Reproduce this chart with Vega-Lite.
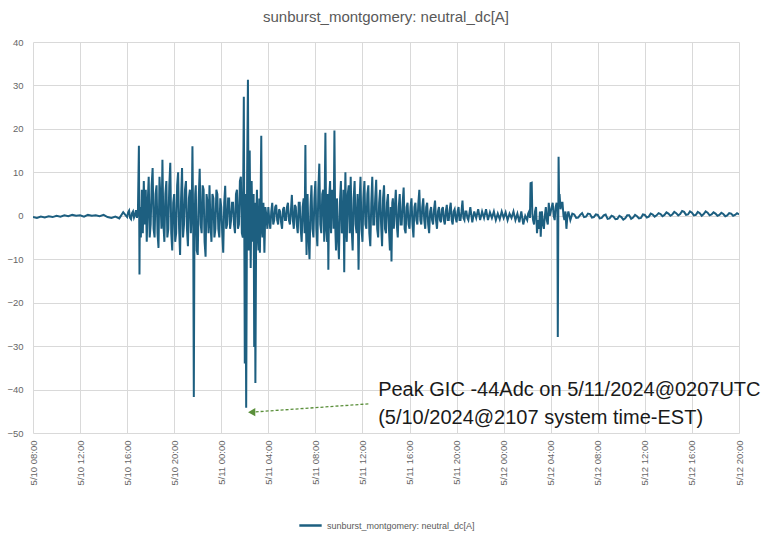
{
  "$schema": "https://vega.github.io/schema/vega-lite/v6.json",
  "autosize": {"type": "none"},
  "width": 706,
  "height": 391,
  "padding": {"left": 33, "top": 42, "right": 22, "bottom": 106},
  "background": "white",
  "config": {
    "view": {"stroke": null},
    "font": "Liberation Sans",
    "axis": {"gridColor": "#d9d9d9", "gridWidth": 1, "domain": false, "ticks": false, "labelColor": "#666666", "title": null}
  },
  "title": {"text": "sunburst_montgomery: neutral_dc[A]", "fontSize": 15, "fontWeight": "normal", "color": "#595959", "offset": 12, "anchor": "middle"},
  "datasets": {
    "series": [
      {"t":"2024-05-10T08:00","v":-0.3},{"t":"2024-05-10T08:20","v":-0.5},{"t":"2024-05-10T08:40","v":-0.2},{"t":"2024-05-10T09:00","v":-0.4},{"t":"2024-05-10T09:20","v":-0.1},{"t":"2024-05-10T09:40","v":-0.3},{"t":"2024-05-10T10:00","v":0},{"t":"2024-05-10T10:20","v":-0.2},{"t":"2024-05-10T10:40","v":0.1},{"t":"2024-05-10T11:00","v":-0.1},{"t":"2024-05-10T11:20","v":0.2},{"t":"2024-05-10T11:40","v":0},{"t":"2024-05-10T12:00","v":0.1},{"t":"2024-05-10T12:20","v":-0.2},{"t":"2024-05-10T12:40","v":0.2},{"t":"2024-05-10T13:00","v":0},{"t":"2024-05-10T13:20","v":0.1},{"t":"2024-05-10T13:40","v":-0.1},{"t":"2024-05-10T14:00","v":0.2},{"t":"2024-05-10T14:20","v":-0.3},{"t":"2024-05-10T14:40","v":-0.5},{"t":"2024-05-10T15:00","v":-0.2},{"t":"2024-05-10T15:20","v":-0.6},{"t":"2024-05-10T15:40","v":0.8},
      {"t":"2024-05-10T16:00","v":-0.3},{"t":"2024-05-10T16:05","v":0.8},{"t":"2024-05-10T16:10","v":1.2},{"t":"2024-05-10T16:15","v":-0.5},{"t":"2024-05-10T16:20","v":-0.8},{"t":"2024-05-10T16:25","v":0.6},{"t":"2024-05-10T16:30","v":1.0},{"t":"2024-05-10T16:35","v":-0.4},{"t":"2024-05-10T16:40","v":0.2},{"t":"2024-05-10T16:45","v":1.3},{"t":"2024-05-10T16:50","v":-0.5},{"t":"2024-05-10T16:55","v":0.9},
      {"t":"2024-05-10T17:00","v":16.1},{"t":"2024-05-10T17:03","v":-13.5},{"t":"2024-05-10T17:05","v":2},{"t":"2024-05-10T17:10","v":-5},{"t":"2024-05-10T17:15","v":6},{"t":"2024-05-10T17:20","v":-4},{"t":"2024-05-10T17:25","v":8},{"t":"2024-05-10T17:30","v":-2},{"t":"2024-05-10T17:35","v":6},{"t":"2024-05-10T17:40","v":-6},{"t":"2024-05-10T17:45","v":3},{"t":"2024-05-10T17:50","v":9},{"t":"2024-05-10T17:55","v":-5},
      {"t":"2024-05-10T18:00","v":-2},{"t":"2024-05-10T18:05","v":7},{"t":"2024-05-10T18:10","v":11},{"t":"2024-05-10T18:15","v":-3},{"t":"2024-05-10T18:20","v":-5},{"t":"2024-05-10T18:25","v":5},{"t":"2024-05-10T18:30","v":7},{"t":"2024-05-10T18:35","v":-4},{"t":"2024-05-10T18:40","v":-7.4},{"t":"2024-05-10T18:45","v":9},{"t":"2024-05-10T18:50","v":4},{"t":"2024-05-10T18:55","v":-3},
      {"t":"2024-05-10T19:00","v":12.9},{"t":"2024-05-10T19:05","v":-2},{"t":"2024-05-10T19:10","v":-6},{"t":"2024-05-10T19:15","v":5},{"t":"2024-05-10T19:20","v":8},{"t":"2024-05-10T19:25","v":-5},{"t":"2024-05-10T19:30","v":-3},{"t":"2024-05-10T19:35","v":7},{"t":"2024-05-10T19:40","v":12.2},{"t":"2024-05-10T19:45","v":-4},{"t":"2024-05-10T19:50","v":-8},{"t":"2024-05-10T19:55","v":3},
      {"t":"2024-05-10T20:00","v":5},{"t":"2024-05-10T20:05","v":-6},{"t":"2024-05-10T20:10","v":-4},{"t":"2024-05-10T20:15","v":7},{"t":"2024-05-10T20:20","v":10},{"t":"2024-05-10T20:25","v":-3},{"t":"2024-05-10T20:30","v":-9},{"t":"2024-05-10T20:35","v":4},{"t":"2024-05-10T20:40","v":11},{"t":"2024-05-10T20:45","v":-5},{"t":"2024-05-10T20:50","v":-2},{"t":"2024-05-10T20:55","v":6},
      {"t":"2024-05-10T21:00","v":8},{"t":"2024-05-10T21:05","v":-3},{"t":"2024-05-10T21:10","v":-7},{"t":"2024-05-10T21:15","v":4},{"t":"2024-05-10T21:20","v":6},{"t":"2024-05-10T21:25","v":-4},{"t":"2024-05-10T21:30","v":3},{"t":"2024-05-10T21:33","v":16},{"t":"2024-05-10T21:37","v":-3},{"t":"2024-05-10T21:40","v":-41.7},{"t":"2024-05-10T21:43","v":-6},{"t":"2024-05-10T21:47","v":5},{"t":"2024-05-10T21:50","v":7},{"t":"2024-05-10T21:55","v":-8},
      {"t":"2024-05-10T22:00","v":-9},{"t":"2024-05-10T22:05","v":4},{"t":"2024-05-10T22:10","v":10.8},{"t":"2024-05-10T22:15","v":-2},{"t":"2024-05-10T22:20","v":-4},{"t":"2024-05-10T22:25","v":7},{"t":"2024-05-10T22:30","v":6},{"t":"2024-05-10T22:35","v":-6},{"t":"2024-05-10T22:40","v":-9.4},{"t":"2024-05-10T22:45","v":5},{"t":"2024-05-10T22:50","v":3},{"t":"2024-05-10T22:55","v":-4},
      {"t":"2024-05-10T23:00","v":7},{"t":"2024-05-10T23:05","v":-2},{"t":"2024-05-10T23:10","v":-6},{"t":"2024-05-10T23:15","v":5},{"t":"2024-05-10T23:20","v":4},{"t":"2024-05-10T23:25","v":-5},{"t":"2024-05-10T23:30","v":-3},{"t":"2024-05-10T23:35","v":6},{"t":"2024-05-10T23:40","v":5},{"t":"2024-05-10T23:45","v":-3},{"t":"2024-05-10T23:50","v":-5},{"t":"2024-05-10T23:55","v":4},
      {"t":"2024-05-11T00:00","v":2},{"t":"2024-05-11T00:05","v":-4},{"t":"2024-05-11T00:10","v":-8.5},{"t":"2024-05-11T00:15","v":3},{"t":"2024-05-11T00:20","v":6.9},{"t":"2024-05-11T00:25","v":-3},{"t":"2024-05-11T00:30","v":-2},{"t":"2024-05-11T00:35","v":4},{"t":"2024-05-11T00:40","v":4},{"t":"2024-05-11T00:45","v":-3},{"t":"2024-05-11T00:50","v":-1},{"t":"2024-05-11T00:55","v":3},
      {"t":"2024-05-11T01:00","v":3},{"t":"2024-05-11T01:05","v":-2},{"t":"2024-05-11T01:10","v":-4},{"t":"2024-05-11T01:15","v":5},{"t":"2024-05-11T01:20","v":6},{"t":"2024-05-11T01:25","v":-3},{"t":"2024-05-11T01:30","v":-2},{"t":"2024-05-11T01:35","v":8},{"t":"2024-05-11T01:40","v":9},{"t":"2024-05-11T01:45","v":-4},{"t":"2024-05-11T01:50","v":-5},
      {"t":"2024-05-11T01:55","v":27.4},{"t":"2024-05-11T02:00","v":-34},{"t":"2024-05-11T02:03","v":5},{"t":"2024-05-11T02:07","v":-44.2},{"t":"2024-05-11T02:12","v":10},{"t":"2024-05-11T02:16","v":31.3},{"t":"2024-05-11T02:20","v":-8},{"t":"2024-05-11T02:25","v":15},{"t":"2024-05-11T02:30","v":-12},{"t":"2024-05-11T02:35","v":8},{"t":"2024-05-11T02:40","v":-6},{"t":"2024-05-11T02:45","v":5},{"t":"2024-05-11T02:48","v":-30.2},{"t":"2024-05-11T02:51","v":3},{"t":"2024-05-11T02:54","v":-38.5},{"t":"2024-05-11T02:58","v":-2},
      {"t":"2024-05-11T03:02","v":6},{"t":"2024-05-11T03:05","v":-4},{"t":"2024-05-11T03:10","v":-8},{"t":"2024-05-11T03:14","v":4},{"t":"2024-05-11T03:17","v":-8.5},{"t":"2024-05-11T03:21","v":5},{"t":"2024-05-11T03:24","v":18.4},{"t":"2024-05-11T03:27","v":-3},{"t":"2024-05-11T03:30","v":-5},{"t":"2024-05-11T03:35","v":3},{"t":"2024-05-11T03:40","v":-8.5},{"t":"2024-05-11T03:45","v":2},{"t":"2024-05-11T03:50","v":0},{"t":"2024-05-11T03:55","v":-3},
      {"t":"2024-05-11T04:00","v":2},{"t":"2024-05-11T04:05","v":-1},{"t":"2024-05-11T04:10","v":-3},{"t":"2024-05-11T04:15","v":1},{"t":"2024-05-11T04:20","v":3},{"t":"2024-05-11T04:25","v":-2},{"t":"2024-05-11T04:30","v":-1},{"t":"2024-05-11T04:35","v":2},{"t":"2024-05-11T04:40","v":2.5},{"t":"2024-05-11T04:45","v":-1},{"t":"2024-05-11T04:50","v":-2},{"t":"2024-05-11T04:55","v":1.5},
      {"t":"2024-05-11T05:00","v":1},{"t":"2024-05-11T05:05","v":-1.5},{"t":"2024-05-11T05:10","v":-3},{"t":"2024-05-11T05:15","v":1.5},{"t":"2024-05-11T05:20","v":2},{"t":"2024-05-11T05:25","v":-1},{"t":"2024-05-11T05:30","v":-1},{"t":"2024-05-11T05:35","v":2},{"t":"2024-05-11T05:40","v":3},{"t":"2024-05-11T05:45","v":-1},{"t":"2024-05-11T05:50","v":-2},{"t":"2024-05-11T05:55","v":1},
      {"t":"2024-05-11T06:00","v":4.8},{"t":"2024-05-11T06:05","v":-1},{"t":"2024-05-11T06:10","v":-3},{"t":"2024-05-11T06:15","v":2.5},{"t":"2024-05-11T06:20","v":2},{"t":"2024-05-11T06:25","v":-2},{"t":"2024-05-11T06:30","v":-4},{"t":"2024-05-11T06:35","v":3},{"t":"2024-05-11T06:40","v":3},{"t":"2024-05-11T06:45","v":-3},{"t":"2024-05-11T06:50","v":-6},{"t":"2024-05-11T06:55","v":2},
      {"t":"2024-05-11T07:00","v":4},{"t":"2024-05-11T07:05","v":-4},{"t":"2024-05-11T07:09","v":16.3},{"t":"2024-05-11T07:12","v":-2},{"t":"2024-05-11T07:15","v":-9},{"t":"2024-05-11T07:18","v":3},{"t":"2024-05-11T07:20","v":5},{"t":"2024-05-11T07:25","v":-5},{"t":"2024-05-11T07:30","v":-10},{"t":"2024-05-11T07:35","v":2},{"t":"2024-05-11T07:40","v":7},{"t":"2024-05-11T07:45","v":-3},{"t":"2024-05-11T07:50","v":-5},{"t":"2024-05-11T07:55","v":4},
      {"t":"2024-05-11T08:00","v":8},{"t":"2024-05-11T08:05","v":-3},{"t":"2024-05-11T08:10","v":-7},{"t":"2024-05-11T08:15","v":6},{"t":"2024-05-11T08:20","v":12},{"t":"2024-05-11T08:25","v":-2},{"t":"2024-05-11T08:30","v":-4},{"t":"2024-05-11T08:35","v":5},{"t":"2024-05-11T08:40","v":6},{"t":"2024-05-11T08:45","v":-6},{"t":"2024-05-11T08:51","v":19.1},{"t":"2024-05-11T08:55","v":-3},
      {"t":"2024-05-11T09:00","v":-6},{"t":"2024-05-11T09:03","v":5},{"t":"2024-05-11T09:06","v":-12.4},{"t":"2024-05-11T09:10","v":4},{"t":"2024-05-11T09:15","v":8},{"t":"2024-05-11T09:18","v":-2},{"t":"2024-05-11T09:20","v":-4},{"t":"2024-05-11T09:25","v":6},{"t":"2024-05-11T09:30","v":5},{"t":"2024-05-11T09:33","v":-3},{"t":"2024-05-11T09:37","v":19.6},{"t":"2024-05-11T09:41","v":-2},{"t":"2024-05-11T09:45","v":-8},{"t":"2024-05-11T09:50","v":4},{"t":"2024-05-11T09:55","v":-5},
      {"t":"2024-05-11T10:00","v":-10},{"t":"2024-05-11T10:05","v":3},{"t":"2024-05-11T10:10","v":8},{"t":"2024-05-11T10:15","v":-4},{"t":"2024-05-11T10:20","v":-3},{"t":"2024-05-11T10:23","v":6},{"t":"2024-05-11T10:27","v":-13},{"t":"2024-05-11T10:30","v":2},{"t":"2024-05-11T10:33","v":10},{"t":"2024-05-11T10:37","v":-3},{"t":"2024-05-11T10:40","v":-6},{"t":"2024-05-11T10:45","v":5},{"t":"2024-05-11T10:50","v":7},{"t":"2024-05-11T10:55","v":-4},
      {"t":"2024-05-11T11:00","v":9},{"t":"2024-05-11T11:05","v":-3},{"t":"2024-05-11T11:10","v":-8},{"t":"2024-05-11T11:15","v":4},{"t":"2024-05-11T11:20","v":8},{"t":"2024-05-11T11:25","v":-2},{"t":"2024-05-11T11:30","v":-4},{"t":"2024-05-11T11:35","v":5},{"t":"2024-05-11T11:40","v":-12.4},{"t":"2024-05-11T11:45","v":3},{"t":"2024-05-11T11:50","v":9},{"t":"2024-05-11T11:55","v":-3},
      {"t":"2024-05-11T12:00","v":-6},{"t":"2024-05-11T12:05","v":4},{"t":"2024-05-11T12:10","v":8},{"t":"2024-05-11T12:15","v":-2},{"t":"2024-05-11T12:20","v":-3},{"t":"2024-05-11T12:25","v":5},{"t":"2024-05-11T12:30","v":7},{"t":"2024-05-11T12:35","v":-4},{"t":"2024-05-11T12:40","v":-7},{"t":"2024-05-11T12:45","v":3},{"t":"2024-05-11T12:50","v":9},{"t":"2024-05-11T12:55","v":-2},
      {"t":"2024-05-11T13:00","v":-2},{"t":"2024-05-11T13:05","v":4},{"t":"2024-05-11T13:10","v":8.3},{"t":"2024-05-11T13:15","v":-3},{"t":"2024-05-11T13:20","v":-5},{"t":"2024-05-11T13:25","v":3},{"t":"2024-05-11T13:30","v":6},{"t":"2024-05-11T13:35","v":-2},{"t":"2024-05-11T13:40","v":-7},{"t":"2024-05-11T13:45","v":4},{"t":"2024-05-11T13:50","v":7},{"t":"2024-05-11T13:55","v":-3},
      {"t":"2024-05-11T14:00","v":-4},{"t":"2024-05-11T14:05","v":3},{"t":"2024-05-11T14:10","v":5},{"t":"2024-05-11T14:15","v":-3},{"t":"2024-05-11T14:20","v":-8},{"t":"2024-05-11T14:24","v":2},{"t":"2024-05-11T14:28","v":-10.5},{"t":"2024-05-11T14:32","v":3},{"t":"2024-05-11T14:35","v":4},{"t":"2024-05-11T14:40","v":-3},{"t":"2024-05-11T14:45","v":2},{"t":"2024-05-11T14:50","v":6},{"t":"2024-05-11T14:55","v":-2},
      {"t":"2024-05-11T15:00","v":-5},{"t":"2024-05-11T15:05","v":2},{"t":"2024-05-11T15:10","v":5},{"t":"2024-05-11T15:15","v":-2},{"t":"2024-05-11T15:20","v":-2},{"t":"2024-05-11T15:25","v":3},{"t":"2024-05-11T15:30","v":6.5},{"t":"2024-05-11T15:35","v":-3},{"t":"2024-05-11T15:40","v":-4},{"t":"2024-05-11T15:45","v":2},{"t":"2024-05-11T15:50","v":3},{"t":"2024-05-11T15:55","v":-2},
      {"t":"2024-05-11T16:00","v":-3},{"t":"2024-05-11T16:05","v":2},{"t":"2024-05-11T16:10","v":4},{"t":"2024-05-11T16:15","v":-2},{"t":"2024-05-11T16:20","v":-5},{"t":"2024-05-11T16:25","v":2},{"t":"2024-05-11T16:30","v":3},{"t":"2024-05-11T16:35","v":-1},{"t":"2024-05-11T16:40","v":-2},{"t":"2024-05-11T16:45","v":3},{"t":"2024-05-11T16:50","v":6},{"t":"2024-05-11T16:55","v":-1},
      {"t":"2024-05-11T17:00","v":-2},{"t":"2024-05-11T17:05","v":2},{"t":"2024-05-11T17:10","v":4},{"t":"2024-05-11T17:15","v":-1},{"t":"2024-05-11T17:20","v":-3},{"t":"2024-05-11T17:25","v":2},{"t":"2024-05-11T17:30","v":3},{"t":"2024-05-11T17:35","v":-2},{"t":"2024-05-11T17:40","v":-4},{"t":"2024-05-11T17:45","v":1},{"t":"2024-05-11T17:50","v":2},{"t":"2024-05-11T17:55","v":-1},
      {"t":"2024-05-11T18:00","v":-2},{"t":"2024-05-11T18:05","v":1.5},{"t":"2024-05-11T18:10","v":3.5},{"t":"2024-05-11T18:15","v":-1},{"t":"2024-05-11T18:20","v":-3},{"t":"2024-05-11T18:25","v":1},{"t":"2024-05-11T18:30","v":2},{"t":"2024-05-11T18:35","v":-1},{"t":"2024-05-11T18:40","v":-1.5},{"t":"2024-05-11T18:45","v":1.5},{"t":"2024-05-11T18:50","v":2},{"t":"2024-05-11T18:55","v":-1},
      {"t":"2024-05-11T19:00","v":-2},{"t":"2024-05-11T19:05","v":1},{"t":"2024-05-11T19:10","v":2.5},{"t":"2024-05-11T19:15","v":-1},{"t":"2024-05-11T19:20","v":-1},{"t":"2024-05-11T19:25","v":1.5},{"t":"2024-05-11T19:30","v":3},{"t":"2024-05-11T19:35","v":-1},{"t":"2024-05-11T19:40","v":-2},{"t":"2024-05-11T19:45","v":1},{"t":"2024-05-11T19:50","v":1.5},{"t":"2024-05-11T19:55","v":-0.5},
      {"t":"2024-05-11T20:00","v":-1.5},{"t":"2024-05-11T20:05","v":1},{"t":"2024-05-11T20:10","v":2},{"t":"2024-05-11T20:15","v":-1},{"t":"2024-05-11T20:20","v":-1},{"t":"2024-05-11T20:25","v":1},{"t":"2024-05-11T20:30","v":3.5},{"t":"2024-05-11T20:35","v":-0.5},{"t":"2024-05-11T20:40","v":-1},{"t":"2024-05-11T20:45","v":1},{"t":"2024-05-11T20:50","v":1},{"t":"2024-05-11T20:55","v":-0.5},
      {"t":"2024-05-11T21:00","v":-1},{"t":"2024-05-11T21:10","v":2},{"t":"2024-05-11T21:20","v":-1.5},{"t":"2024-05-11T21:30","v":1},{"t":"2024-05-11T21:40","v":-0.5},{"t":"2024-05-11T21:50","v":1.5},
      {"t":"2024-05-11T22:00","v":-1},{"t":"2024-05-11T22:10","v":1},{"t":"2024-05-11T22:20","v":-0.5},{"t":"2024-05-11T22:30","v":1.5},{"t":"2024-05-11T22:40","v":-1},{"t":"2024-05-11T22:50","v":0.8},
      {"t":"2024-05-11T23:00","v":-0.5},{"t":"2024-05-11T23:10","v":1},{"t":"2024-05-11T23:20","v":-1},{"t":"2024-05-11T23:30","v":0.5},{"t":"2024-05-11T23:40","v":-0.8},{"t":"2024-05-11T23:50","v":1},
      {"t":"2024-05-12T00:00","v":-0.5},{"t":"2024-05-12T00:10","v":0.8},{"t":"2024-05-12T00:20","v":-1},{"t":"2024-05-12T00:30","v":0.5},{"t":"2024-05-12T00:40","v":-0.5},{"t":"2024-05-12T00:50","v":1},
      {"t":"2024-05-12T01:00","v":-1},{"t":"2024-05-12T01:10","v":0.5},{"t":"2024-05-12T01:20","v":-1.5},{"t":"2024-05-12T01:30","v":1},{"t":"2024-05-12T01:40","v":-2},{"t":"2024-05-12T01:50","v":0},
      {"t":"2024-05-12T02:00","v":-1},{"t":"2024-05-12T02:05","v":0.5},{"t":"2024-05-12T02:10","v":1},{"t":"2024-05-12T02:14","v":-0.5},{"t":"2024-05-12T02:17","v":7.5},{"t":"2024-05-12T02:23","v":7.6},{"t":"2024-05-12T02:26","v":0.5},{"t":"2024-05-12T02:30","v":-1},{"t":"2024-05-12T02:35","v":-2},{"t":"2024-05-12T02:40","v":1},{"t":"2024-05-12T02:45","v":2},{"t":"2024-05-12T02:50","v":-4},{"t":"2024-05-12T02:55","v":-1},
      {"t":"2024-05-12T03:00","v":-3},{"t":"2024-05-12T03:05","v":1},{"t":"2024-05-12T03:09","v":-4.8},{"t":"2024-05-12T03:12","v":-1},{"t":"2024-05-12T03:15","v":1},{"t":"2024-05-12T03:20","v":-2},{"t":"2024-05-12T03:25","v":-3},{"t":"2024-05-12T03:30","v":0},{"t":"2024-05-12T03:35","v":2},{"t":"2024-05-12T03:40","v":-1},{"t":"2024-05-12T03:45","v":-2},{"t":"2024-05-12T03:50","v":3},{"t":"2024-05-12T03:55","v":0},
      {"t":"2024-05-12T04:00","v":1},{"t":"2024-05-12T04:05","v":2},{"t":"2024-05-12T04:10","v":3},{"t":"2024-05-12T04:15","v":0},{"t":"2024-05-12T04:20","v":-1},{"t":"2024-05-12T04:25","v":2},{"t":"2024-05-12T04:30","v":3},{"t":"2024-05-12T04:34","v":1},{"t":"2024-05-12T04:36","v":-27.9},{"t":"2024-05-12T04:40","v":13.6},{"t":"2024-05-12T04:43","v":3},{"t":"2024-05-12T04:45","v":5},{"t":"2024-05-12T04:50","v":1.5},{"t":"2024-05-12T04:55","v":3},
      {"t":"2024-05-12T05:00","v":3},{"t":"2024-05-12T05:05","v":0},{"t":"2024-05-12T05:10","v":-1},{"t":"2024-05-12T05:15","v":1},{"t":"2024-05-12T05:20","v":-3},{"t":"2024-05-12T05:25","v":0},{"t":"2024-05-12T05:30","v":1},{"t":"2024-05-12T05:40","v":-1},{"t":"2024-05-12T05:50","v":0.5},
      {"t":"2024-05-12T06:00","v":0.3},{"t":"2024-05-12T06:10","v":-0.5},{"t":"2024-05-12T06:20","v":-0.4},{"t":"2024-05-12T06:30","v":0.2},{"t":"2024-05-12T06:40","v":0.6},{"t":"2024-05-12T06:50","v":-0.3},{"t":"2024-05-12T07:00","v":-0.2},{"t":"2024-05-12T07:10","v":0.5},{"t":"2024-05-12T07:20","v":0.4},{"t":"2024-05-12T07:30","v":-0.4},{"t":"2024-05-12T07:40","v":-0.3},{"t":"2024-05-12T07:50","v":0.3},
      {"t":"2024-05-12T08:00","v":0.2},{"t":"2024-05-12T08:10","v":-0.6},{"t":"2024-05-12T08:20","v":-0.5},{"t":"2024-05-12T08:30","v":0.1},{"t":"2024-05-12T08:40","v":0.3},{"t":"2024-05-12T08:50","v":-0.7},{"t":"2024-05-12T09:00","v":-0.6},{"t":"2024-05-12T09:10","v":0},{"t":"2024-05-12T09:20","v":-0.2},{"t":"2024-05-12T09:30","v":-0.8},{"t":"2024-05-12T09:40","v":-0.7},{"t":"2024-05-12T09:50","v":0},
      {"t":"2024-05-12T10:00","v":-0.3},{"t":"2024-05-12T10:10","v":-0.9},{"t":"2024-05-12T10:20","v":-0.6},{"t":"2024-05-12T10:30","v":0.1},{"t":"2024-05-12T10:40","v":0.1},{"t":"2024-05-12T10:50","v":-0.7},{"t":"2024-05-12T11:00","v":-0.4},{"t":"2024-05-12T11:10","v":0.2},{"t":"2024-05-12T11:20","v":-0.1},{"t":"2024-05-12T11:30","v":-0.6},{"t":"2024-05-12T11:40","v":-0.5},{"t":"2024-05-12T11:50","v":0.3},
      {"t":"2024-05-12T12:00","v":0.2},{"t":"2024-05-12T12:10","v":-0.4},{"t":"2024-05-12T12:20","v":-0.2},{"t":"2024-05-12T12:30","v":0.5},{"t":"2024-05-12T12:40","v":0.3},{"t":"2024-05-12T12:50","v":-0.2},{"t":"2024-05-12T13:00","v":0.1},{"t":"2024-05-12T13:10","v":0.6},{"t":"2024-05-12T13:20","v":0.4},{"t":"2024-05-12T13:30","v":-0.1},{"t":"2024-05-12T13:40","v":0.2},{"t":"2024-05-12T13:50","v":0.8},
      {"t":"2024-05-12T14:00","v":0.5},{"t":"2024-05-12T14:10","v":0},{"t":"2024-05-12T14:20","v":0.3},{"t":"2024-05-12T14:30","v":0.9},{"t":"2024-05-12T14:40","v":0.6},{"t":"2024-05-12T14:50","v":0.1},{"t":"2024-05-12T15:00","v":0.4},{"t":"2024-05-12T15:10","v":1.1},{"t":"2024-05-12T15:20","v":0.9},{"t":"2024-05-12T15:30","v":0.2},{"t":"2024-05-12T15:40","v":0.3},{"t":"2024-05-12T15:50","v":1.0},
      {"t":"2024-05-12T16:00","v":0.7},{"t":"2024-05-12T16:10","v":0.1},{"t":"2024-05-12T16:20","v":0.2},{"t":"2024-05-12T16:30","v":0.9},{"t":"2024-05-12T16:40","v":0.6},{"t":"2024-05-12T16:50","v":0},{"t":"2024-05-12T17:00","v":0.4},{"t":"2024-05-12T17:10","v":1.0},{"t":"2024-05-12T17:20","v":0.7},{"t":"2024-05-12T17:30","v":0.1},{"t":"2024-05-12T17:40","v":0.3},{"t":"2024-05-12T17:50","v":0.8},
      {"t":"2024-05-12T18:00","v":0.5},{"t":"2024-05-12T18:10","v":0},{"t":"2024-05-12T18:20","v":0.2},{"t":"2024-05-12T18:30","v":0.7},{"t":"2024-05-12T18:40","v":0.4},{"t":"2024-05-12T18:50","v":-0.1},{"t":"2024-05-12T19:00","v":0.1},{"t":"2024-05-12T19:10","v":0.6},{"t":"2024-05-12T19:20","v":0.5},{"t":"2024-05-12T19:30","v":0},{"t":"2024-05-12T19:40","v":0.2},{"t":"2024-05-12T19:50","v":0.6},{"t":"2024-05-12T20:00","v":0.3}
    ],
    "notes": [
      {"t":"2024-05-11T13:20","v":-40.2,"label":"Peak GIC -44Adc on 5/11/2024@0207UTC"},
      {"t":"2024-05-11T13:20","v":-46.6,"label":"(5/10/2024@2107  system time-EST)"}
    ],
    "arrow": [
      {"t":"2024-05-11T12:30","v":-43.3,"t2":"2024-05-11T02:35","v2":-45.2}
    ]
  },
  "layer": [
    {
      "data": {"name": "series"},
      "mark": {"type": "line", "strokeWidth": 2, "clip": true},
      "encoding": {
        "x": {"field": "t", "type": "temporal",
              "scale": {"domain": [{"year":2024,"month":5,"date":10,"hours":8}, {"year":2024,"month":5,"date":12,"hours":20}]},
              "axis": {"format": "%-m/%d %H:%M", "labelAngle": -90, "labelFontSize": 9.5, "labelPadding": 7, "grid": true, "labelFlush": false, "labelOverlap": false,
                       "values": [
                         {"year":2024,"month":5,"date":10,"hours":8},{"year":2024,"month":5,"date":10,"hours":12},{"year":2024,"month":5,"date":10,"hours":16},{"year":2024,"month":5,"date":10,"hours":20},
                         {"year":2024,"month":5,"date":11,"hours":0},{"year":2024,"month":5,"date":11,"hours":4},{"year":2024,"month":5,"date":11,"hours":8},{"year":2024,"month":5,"date":11,"hours":12},{"year":2024,"month":5,"date":11,"hours":16},{"year":2024,"month":5,"date":11,"hours":20},
                         {"year":2024,"month":5,"date":12,"hours":0},{"year":2024,"month":5,"date":12,"hours":4},{"year":2024,"month":5,"date":12,"hours":8},{"year":2024,"month":5,"date":12,"hours":12},{"year":2024,"month":5,"date":12,"hours":16},{"year":2024,"month":5,"date":12,"hours":20}
                       ]}},
        "y": {"field": "v", "type": "quantitative",
              "scale": {"domain": [-50, 40], "nice": false},
              "axis": {"values": [-50, -40, -30, -20, -10, 0, 10, 20, 30, 40], "labelFontSize": 9.5, "labelPadding": 10, "grid": true}},
        "color": {"datum": "sunburst_montgomery: neutral_dc[A]", "type": "nominal",
                  "scale": {"range": ["#1d5f80"]},
                  "legend": {"title": null, "orient": "none", "legendX": 265, "legendY": 471, "symbolType": "stroke", "symbolSize": 500, "symbolStrokeWidth": 2.5, "labelFontSize": 9, "labelColor": "#595959"}}
      }
    },
    {
      "data": {"name": "arrow"},
      "mark": {"type": "rule", "color": "#5a8f3a", "strokeWidth": 1.3, "strokeDash": [3, 2]},
      "encoding": {
        "x": {"field": "t", "type": "temporal"},
        "y": {"field": "v", "type": "quantitative"},
        "x2": {"field": "t2"},
        "y2": {"field": "v2"}
      }
    },
    {
      "data": {"name": "arrow"},
      "mark": {"type": "point", "shape": "triangle-left", "filled": true, "color": "#5a8f3a", "size": 70, "opacity": 1},
      "encoding": {
        "x": {"field": "t2", "type": "temporal"},
        "y": {"field": "v2", "type": "quantitative"}
      }
    },
    {
      "data": {"name": "notes"},
      "mark": {"type": "text", "align": "left", "baseline": "middle", "fontSize": 20, "color": "#1a1a1a", "font": "Liberation Sans"},
      "encoding": {
        "x": {"field": "t", "type": "temporal"},
        "y": {"field": "v", "type": "quantitative"},
        "text": {"field": "label"}
      }
    }
  ]
}
